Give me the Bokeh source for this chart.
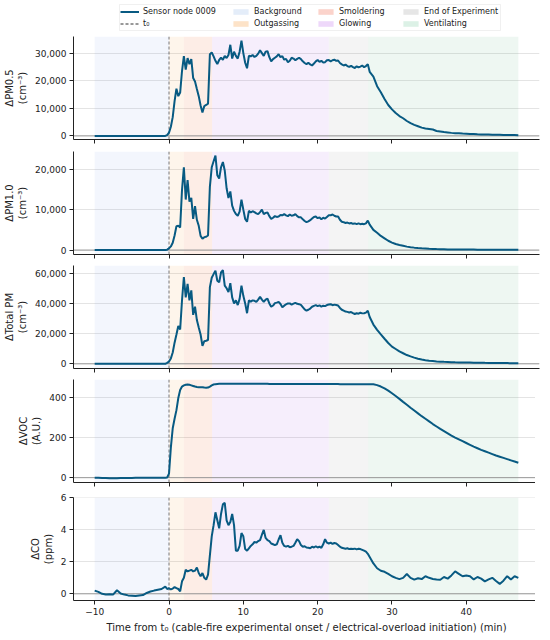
import numpy as np
from bokeh.plotting import figure
from bokeh.models import (Range1d, Span, Legend, LegendItem, FixedTicker,
                          NumeralTickFormatter, BoxAnnotation, CustomJSTickFormatter)
from bokeh.layouts import column
from bokeh.embed import file_html
from bokeh.resources import INLINE

# ---------------- sampling times (min) ----------------
t_bg = np.arange(-10.0, -0.75, 0.5)      # -10 .. -1   (19)
t_fine = np.arange(-0.5, 27.01, 0.25)    # -0.5 .. 27  (111)
t_coarse = np.arange(27.5, 47.01, 0.5)   # 27.5 .. 47  (40)
time_min = np.concatenate([t_bg, t_fine, t_coarse])

# ---------------- series values ----------------
# ΔPM0.5 (thousand cm^-3)
pm05_bg = [0.0, 0.0, 0.0, 0.0, 0.0, 0.0, 0.0, 0.0, 0.0, 0.0,
           0.0, 0.0, 0.0, 0.0, 0.0, 0.0, 0.0, 0.0, 0.0]
pm05_fine = [0.0, 0.3,
             1.2, 3.3, 6.8, 12.6,
             17.1, 14.4, 15.7, 23.5,
             28.9, 24.0, 28.2, 26.0,
             27.8, 21.0, 19.7, 17.0,
             14.4, 11.0, 8.5, 10.8,
             11.2, 11.7, 29.6, 30.2,
             28.8, 27.2, 26.0, 27.5,
             28.3, 27.6, 29.0, 28.2,
             29.3, 33.0, 28.0, 30.5,
             29.0, 28.0, 30.5, 34.5,
             30.0, 26.5, 24.5, 29.0,
             28.8, 29.3, 28.6, 29.0,
             29.8, 31.0, 30.0, 29.0,
             30.5, 30.7, 28.5, 27.0,
             27.8, 28.3, 28.8, 29.6,
             28.5, 28.9, 27.6, 27.9,
             26.7, 27.2, 28.3, 28.0,
             27.4, 27.9, 28.3, 27.8,
             27.0, 26.4, 26.0, 26.5,
             25.9, 25.5, 26.2, 27.0,
             27.5, 26.8, 27.2, 26.6,
             26.7, 27.4, 27.5, 27.0,
             27.4, 27.6, 27.2, 27.3,
             26.4, 25.9, 25.5, 25.8,
             25.3, 25.0, 25.4, 24.9,
             24.6, 25.2, 24.8, 25.1,
             25.5, 24.9, 25.3, 26.0,
             23.2]
pm05_coarse = [21.5, 18.0, 15.8, 13.4, 11.2, 9.6, 8.3, 7.2, 6.4, 5.4,
               4.6, 4.0, 3.5, 3.0, 2.7, 2.5, 2.3, 1.8, 1.6, 1.4,
               1.25, 1.1, 1.0, 0.95, 0.85, 0.8, 0.72, 0.66, 0.6, 0.55,
               0.5, 0.47, 0.44, 0.41, 0.38, 0.35, 0.33, 0.31, 0.3, 0.28]

# ΔPM1.0 (thousand cm^-3)
pm10_bg = [0.0, 0.0, 0.0, 0.0, 0.0, 0.0, 0.0, 0.0, 0.0, 0.0,
           0.0, 0.0, 0.0, 0.0, 0.0, 0.0, 0.0, 0.0, 0.0]
pm10_fine = [0.0, 0.1,
             0.4, 0.9, 1.8, 3.6,
             5.9, 6.0, 5.6, 14.9,
             20.5, 12.5, 17.3, 12.0,
             12.9, 7.7, 10.9, 7.5,
             6.0, 3.5, 2.8, 3.2,
             3.3, 3.6, 15.7, 20.5,
             22.0, 23.4, 18.5, 17.7,
             20.5, 21.8, 19.7, 15.3,
             12.9, 14.5, 11.0, 9.7,
             8.9, 8.5, 9.5, 12.5,
             10.0, 7.7, 7.0, 9.7,
             9.3, 9.6, 9.4, 9.1,
             8.9, 9.4, 10.0, 8.9,
             9.2, 9.3, 8.4, 7.7,
             8.0, 8.4, 8.2, 8.3,
             8.7, 8.6, 8.9, 8.6,
             8.4, 8.8, 8.5, 8.6,
             8.9, 8.4, 8.1, 8.1,
             7.6, 7.2, 6.9, 7.1,
             7.4, 7.8, 8.2, 8.3,
             7.9, 8.1, 7.6, 8.0,
             7.8, 8.2, 8.6, 8.6,
             8.8, 8.5, 8.3, 8.3,
             7.5, 7.0, 6.9, 6.7,
             6.8, 6.6, 6.7, 6.5,
             6.6, 6.4, 6.6, 6.4,
             6.5, 6.4, 6.6, 7.3,
             6.3]
pm10_coarse = [5.0, 4.3, 3.5, 2.9, 2.3, 1.85, 1.5, 1.25, 1.05, 0.85,
               0.72, 0.6, 0.5, 0.43, 0.38, 0.32, 0.28, 0.24, 0.21, 0.19,
               0.16, 0.15, 0.14, 0.13, 0.12, 0.12, 0.11, 0.11, 0.1, 0.1,
               0.1, 0.09, 0.09, 0.09, 0.09, 0.08, 0.08, 0.08, 0.08, 0.08]

# ΔTotal PM (thousand cm^-3)
pmt_bg = [0.0, 0.0, 0.0, 0.0, 0.0, 0.0, 0.0, 0.0, 0.0, 0.0,
          0.0, 0.0, 0.0, 0.0, 0.0, 0.0, 0.0, 0.0, 0.0]
pmt_fine = [0.0, 0.6,
            1.5, 3.6, 7.5, 14.0,
            19.4, 25.0, 22.7, 42.0,
            57.5, 44.0, 53.0, 42.0,
            48.6, 32.4, 37.8, 29.0,
            24.0, 19.4, 11.9, 15.0,
            15.3, 15.8, 50.8, 57.0,
            59.4, 61.6, 55.0, 54.0,
            60.5, 62.0, 51.8, 50.0,
            47.5, 53.4, 44.0, 40.0,
            42.0, 38.9, 43.0, 51.8,
            45.0, 40.0, 33.5, 42.0,
            41.2, 42.0, 41.7, 41.0,
            42.5, 44.3, 42.5, 41.0,
            42.5, 43.2, 40.0, 37.8,
            38.6, 40.2, 40.5, 41.0,
            39.6, 37.4, 38.5, 39.4,
            40.0, 40.0, 39.2, 39.8,
            40.4, 39.7, 39.5, 39.0,
            37.5, 36.0, 35.2, 35.8,
            36.6, 37.8, 38.4, 38.9,
            38.2, 38.7, 37.9, 38.5,
            38.2, 38.9, 39.3, 39.5,
            38.8, 39.2, 38.9, 38.6,
            37.0, 35.8, 35.2, 34.6,
            34.4, 34.0, 34.3, 33.6,
            33.0, 33.5, 33.2, 33.8,
            33.4, 33.5, 33.9, 35.2,
            31.0]
pmt_coarse = [26.0, 22.5, 19.5, 16.6, 13.8, 11.4, 9.8, 8.2, 7.0, 5.8,
              4.9, 4.1, 3.4, 2.8, 2.4, 2.1, 1.85, 1.6, 1.45, 1.3,
              1.2, 1.1, 1.02, 0.95, 0.9, 0.85, 0.8, 0.75, 0.71, 0.67,
              0.63, 0.6, 0.57, 0.54, 0.51, 0.48, 0.46, 0.44, 0.42, 0.4]

# ΔVOC (A.U.)
voc_bg = [-0.5, -1.0, -1.5, -2.0, -2.5, -3.0, -2.5, -2.0, -2.0, -1.5,
          -1.5, -1.0, -1.0, -1.0, -0.5, -0.5, -0.5, 0.0, 0.0]
voc_fine = [0, 1,
            20, 150, 245, 292,
            335, 395, 435, 452,
            458, 461, 462, 461,
            458, 455, 452, 450,
            449, 449, 449, 447,
            446, 447, 452, 458,
            462, 464, 465, 466,
            466, 466, 466, 466,
            466, 466, 466, 466,
            466, 466, 466, 466,
            466, 466, 466, 466,
            466, 466, 466, 466,
            466, 466, 466, 466,
            466, 466, 465, 465,
            465, 465, 465, 465,
            465, 465, 465, 465,
            465, 465, 465, 465,
            465, 465, 465, 465,
            465, 465, 465, 465,
            465, 465, 465, 465,
            465, 465, 465, 465,
            465, 465, 465, 465,
            465, 465, 465, 465,
            464, 464, 464, 464,
            464, 464, 464, 464,
            464, 464, 464, 464,
            464, 464, 464, 464,
            464]
voc_coarse = [463, 459, 452, 443, 432, 419, 405, 391, 376, 362,
              347, 333, 319, 305, 292, 279, 266, 254, 242, 231,
              220, 209, 199, 190, 181, 172, 163, 154, 146, 138,
              131, 124, 117, 110, 104, 98, 92, 86, 80, 74]

# ΔCO (ppm)
co_bg = [0.2, 0.12, 0.0, -0.05, -0.03, -0.04, 0.22, 0.02, -0.05, -0.1,
         -0.12, -0.14, -0.1, -0.08, 0.05, 0.14, 0.2, 0.25, 0.3]
co_fine = [0.45, 0.3,
           0.35, 0.27, 0.33, 0.42,
           0.35, 0.3, 0.16, 0.78,
           1.0, 1.5, 1.4, 1.45,
           1.5, 1.4, 1.45, 1.65,
           1.3, 1.1, 1.3, 1.0,
           0.89, 1.2, 2.4, 3.6,
           4.3, 5.1, 4.6, 4.1,
           5.0, 5.6, 5.7, 4.6,
           4.3, 4.5, 5.0, 4.3,
           2.7, 2.7, 3.0, 3.8,
           3.6, 2.8, 2.7, 2.85,
           3.0, 3.1, 3.25, 3.2,
           3.3, 3.36, 3.7, 4.0,
           3.5, 3.36, 3.3, 3.15,
           3.1, 3.05, 3.1, 3.4,
           3.67, 3.2, 3.0, 2.95,
           3.0, 2.92, 2.95, 3.0,
           3.2, 3.42, 3.3, 3.05,
           2.95, 2.98, 2.9, 2.88,
           2.85, 2.95, 2.9, 2.98,
           2.9, 2.95, 2.88, 3.1,
           3.42, 3.2, 3.15, 3.2,
           3.12, 3.18, 3.15, 3.05,
           2.95, 2.88, 2.85, 2.82,
           2.85, 2.8, 2.82, 2.8,
           2.83, 2.78, 2.82, 2.8,
           2.75, 2.7, 2.64, 2.5,
           2.3]
co_coarse = [1.9, 1.6, 1.44, 1.38, 1.25, 1.1, 1.0, 0.92, 1.0, 1.24,
             1.0, 0.89, 0.97, 0.92, 1.1, 1.0, 0.93, 0.9, 0.88, 1.05,
             0.95, 1.15, 1.4, 1.25, 1.1, 1.15, 1.1, 0.9, 1.05, 0.95,
             0.78, 0.9, 1.0, 0.8, 0.62, 0.82, 1.1, 0.9, 1.1, 1.0]

# phases
phase_names = ["Background", "Outgassing", "Smoldering", "Glowing",
               "End of Experiment", "Ventilating"]
phase_start = [-10.0, 0.0, 2.0, 5.8, 21.5, 26.8]
phase_end = [0.0, 2.0, 5.8, 21.5, 26.8, 47.0]
phase_colors = ["#87a5eb", "#f59b37", "#eb4b05", "#a555e1", "#919191", "#55af7d"]
legend_patch_colors = ["#e4edf9", "#fde3c8", "#fbd3cb", "#eed8fa", "#e6e6e6", "#dcf1e6"]

x_ticks = [-10, 0, 10, 20, 30, 40]

pm05 = np.array(pm05_bg + pm05_fine + pm05_coarse) * 1000.0
pm10 = np.array(pm10_bg + pm10_fine + pm10_coarse) * 1000.0
pmt = np.array(pmt_bg + pmt_fine + pmt_coarse) * 1000.0
voc = np.array(voc_bg + voc_fine + voc_coarse, dtype=float)
co = np.array(co_bg + co_fine + co_coarse)

panels_spec = [
    (pm05, "ΔPM0.5\n(cm⁻³)", (-1300, 36000), [0, 10000, 20000, 30000]),
    (pm10, "ΔPM1.0\n(cm⁻³)", (-1100, 24400), [0, 10000, 20000]),
    (pmt, "ΔTotal PM\n(cm⁻³)", (-3100, 65100), [0, 20000, 40000, 60000]),
    (voc, "ΔVOC\n(A.U.)", (-24, 487), [0, 200, 400]),
    (co, "ΔCO\n(ppm)", (-0.42, 6.03), [0, 2, 4, 6]),
]
top_borders = [4, 7, 6, 6, 10]

FONT = "DejaVu Sans"
LINE_COLOR = "#085a82"
LEFT = 68
FW, FH = 466, 103

xr = Range1d(-12.85, 49.85)
minus_fmt = CustomJSTickFormatter(
    code="return tick < 0 ? '\\u2212' + Math.abs(tick) : String(tick);")
blank_fmt = CustomJSTickFormatter(code="return '';")

figs = []

# ---------------- legend strip ----------------
LH = 32
lf = figure(frame_width=FW, frame_height=LH,
            x_range=Range1d(0, FW), y_range=Range1d(0, LH),
            x_axis_type=None, y_axis_type=None,
            min_border_left=LEFT, min_border_right=1, min_border_top=0, min_border_bottom=0,
            output_backend="svg", toolbar_location=None)
lf.outline_line_color = None
lf.xgrid.visible = False
lf.ygrid.visible = False
lf.add_layout(BoxAnnotation(left=46, right=427, bottom=2, top=28, fill_color=None,
                            line_color="#cccccc", line_width=1))
off = [-1000.0, -999.0]
r_line = lf.line(x=off, y=off, line_color=LINE_COLOR, line_width=2)
r_t0 = lf.line(x=off, y=off, line_color="#333333", line_width=1, line_dash="3 2")
r_ph = [lf.quad(left=[-1000.0], right=[-999.0], top=[-999.0], bottom=[-1000.0],
                fill_color=c, line_color=None) for c in legend_patch_colors]
col_items = [
    [("Sensor node 0009", r_line), ("t₀", r_t0)],
    [(phase_names[0], r_ph[0]), (phase_names[1], r_ph[1])],
    [(phase_names[2], r_ph[2]), (phase_names[3], r_ph[3])],
    [(phase_names[4], r_ph[4]), (phase_names[5], r_ph[5])],
]
col_x = [97, 208, 293, 378]
for cx, its in zip(col_x, col_items):
    lg = Legend(items=[LegendItem(label=lab, renderers=[r]) for lab, r in its],
                location=(cx, 4), orientation="vertical",
                padding=0, margin=0, spacing=3, border_line_color=None,
                background_fill_alpha=0, glyph_width=19, glyph_height=7,
                label_height=9, label_standoff=4,
                label_text_font=FONT, label_text_font_size="8px",
                label_text_color="#222222")
    lf.add_layout(lg, "center")
figs.append(lf)

# ---------------- data panels ----------------
for i, (vals, ylab, yr, yt) in enumerate(panels_spec):
    last = i == len(panels_spec) - 1
    p = figure(frame_width=FW, frame_height=FH, x_range=xr, y_range=Range1d(*yr),
               min_border_left=LEFT, min_border_right=1,
               min_border_top=top_borders[i],
               min_border_bottom=(10 if last else 5),
               output_backend="svg", toolbar_location=None)
    p.outline_line_color = None
    p.background_fill_color = "white"
    p.border_fill_color = "white"
    p.xgrid.visible = False
    p.ygrid.grid_line_color = "#dddddd"
    p.ygrid.grid_line_width = 0.8
    p.ygrid.ticker = FixedTicker(ticks=yt)

    for s, e, c in zip(phase_start, phase_end, phase_colors):
        p.add_layout(BoxAnnotation(left=s, right=e, fill_color=c, fill_alpha=0.1,
                                   line_color=None, level="underlay"))
    p.add_layout(Span(location=0, dimension="width", line_color="#9a9a9a",
                      line_width=1, level="underlay"))
    p.add_layout(Span(location=0, dimension="height", line_color="#555555",
                      line_width=0.8, line_dash="3 2", level="underlay"))

    p.line(time_min, vals, line_color=LINE_COLOR, line_width=2)

    for ax in (p.xaxis[0], p.yaxis[0]):
        ax.axis_line_color = "#222222"
        ax.axis_line_width = 1
        ax.major_tick_line_color = "#222222"
        ax.major_tick_out = 4
        ax.major_tick_in = 0
        ax.minor_tick_line_color = None
        ax.major_label_text_font = FONT
        ax.major_label_text_font_size = "9px"
        ax.major_label_text_color = "#222222"
        ax.axis_label_text_font = FONT
        ax.axis_label_text_font_style = "normal"
        ax.axis_label_text_color = "#222222"

    p.yaxis.ticker = FixedTicker(ticks=yt)
    p.yaxis.formatter = NumeralTickFormatter(format="0,0")
    p.yaxis.major_label_standoff = 3
    p.yaxis.axis_label = ylab
    p.yaxis.axis_label_text_font_size = "10px"
    p.yaxis.axis_label_standoff = 4

    p.xaxis.ticker = FixedTicker(ticks=x_ticks)
    if last:
        p.xaxis.formatter = minus_fmt
        p.xaxis.major_label_standoff = 3
        p.xaxis.axis_label = "Time from t₀ (cable-fire experimental onset / electrical-overload initiation) (min)"
        p.xaxis.axis_label_text_font_size = "10px"
        p.xaxis.axis_label_standoff = 4
    else:
        p.xaxis.formatter = blank_fmt
        p.xaxis.major_label_text_font_size = "1px"
        p.xaxis.major_label_text_color = None
        p.xaxis.major_label_standoff = 0
    figs.append(p)

layout = column(*figs, spacing=0)
open("out.html", "w").write(file_html(layout, INLINE))
